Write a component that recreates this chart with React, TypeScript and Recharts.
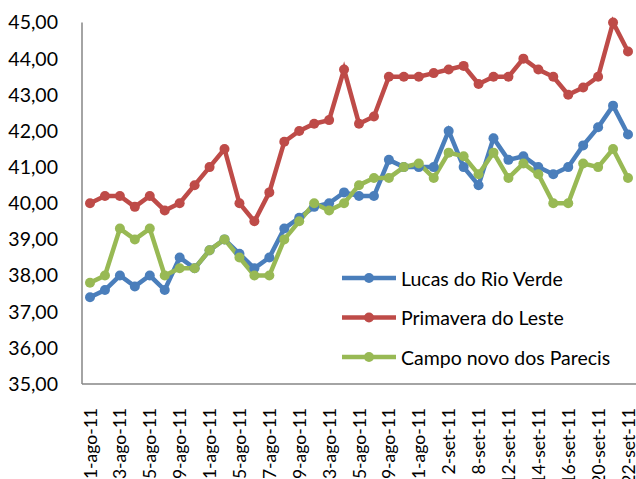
import React from 'react';
import { LineChart, Line, XAxis, YAxis } from 'recharts';

const dates = ['1-ago-11','2-ago-11','3-ago-11','4-ago-11','5-ago-11','8-ago-11','9-ago-11','10-ago-11','11-ago-11','12-ago-11','15-ago-11','16-ago-11','17-ago-11','18-ago-11','19-ago-11','22-ago-11','23-ago-11','24-ago-11','25-ago-11','26-ago-11','29-ago-11','30-ago-11','31-ago-11','1-set-11','2-set-11','6-set-11','8-set-11','9-set-11','12-set-11','13-set-11','14-set-11','15-set-11','16-set-11','19-set-11','20-set-11','21-set-11','22-set-11'];

const lucas = [37.4, 37.6, 38.0, 37.7, 38.0, 37.6, 38.5, 38.2, 38.7, 39.0,
  38.6, 38.2, 38.5, 39.3, 39.6, 39.9, 40.0, 40.3, 40.2, 40.2,
  41.2, 41.0, 41.0, 41.0, 42.0, 41.0, 40.5, 41.8, 41.2, 41.3,
  41.0, 40.8, 41.0, 41.6, 42.1, 42.7, 41.9];

const primavera = [40.0, 40.2, 40.2, 39.9, 40.2, 39.8, 40.0, 40.5, 41.0, 41.5,
  40.0, 39.5, 40.3, 41.7, 42.0, 42.2, 42.3, 43.7, 42.2, 42.4,
  43.5, 43.5, 43.5, 43.6, 43.7, 43.8, 43.3, 43.5, 43.5, 44.0,
  43.7, 43.5, 43.0, 43.2, 43.5, 45.0, 44.2];

const campo = [37.8, 38.0, 39.3, 39.0, 39.3, 38.0, 38.2, 38.2, 38.7, 39.0,
  38.5, 38.0, 38.0, 39.0, 39.5, 40.0, 39.8, 40.0, 40.5, 40.7,
  40.7, 41.0, 41.1, 40.7, 41.4, 41.3, 40.8, 41.4, 40.7, 41.1,
  40.8, 40.0, 40.0, 41.1, 41.0, 41.5, 40.7];

const yTicks = [35, 36, 37, 38, 39, 40, 41, 42, 43, 44, 45];

const seriesKeys = ['lucas', 'primavera', 'campo'];
const seriesNames = ['Lucas do Rio Verde', 'Primavera do Leste', 'Campo novo dos Parecis'];
const colors = ['#4A7EBB', '#BE4B48', '#98B954'];

const data = dates.map((d, i) => ({ date: d, lucas: lucas[i], primavera: primavera[i], campo: campo[i] }));

const FONT = 'Lato, "Open Sans", sans-serif';

const XTick = (props: any) => {
  const { x, y, payload } = props;
  return (
    <text x={x} y={y} transform={`rotate(-90, ${x}, ${y})`} textAnchor="end" dominantBaseline="central"
      fill="#000" fontSize={17.5} fontFamily={FONT}>
      {payload.value}
    </text>
  );
};

const LegendBox = () => (
  <svg width={300} height={130} style={{ position: 'absolute', left: 330, top: 258 }}>
    {seriesNames.map((name, i) => {
      const cy = 20 + i * 39.5;
      return (
        <g key={i}>
          <line x1={12} x2={66} y1={cy} y2={cy} stroke={colors[i]} strokeWidth={4.5} />
          <circle cx={39} cy={cy} r={5} fill={colors[i]} />
          <text x={71} y={cy} dominantBaseline="central" fontSize={19.5} fontFamily={FONT} fill="#000">{name}</text>
        </g>
      );
    })}
  </svg>
);

export default function App() {
  return (
    <div style={{ position: 'absolute', left: 0, top: 0, width: 636, height: 479, background: '#fff' }}>
      <LineChart width={636} height={479} data={data} margin={{ top: 22.5, right: 0, bottom: 0, left: 0 }}>
        <XAxis dataKey="date" interval={1} height={95} padding={{ left: 8, right: 8 }}
          axisLine={{ stroke: '#868686', strokeWidth: 1.5 }} tickLine={false} tickSize={0} tickMargin={24}
          tick={<XTick />} />
        <YAxis domain={[35, 45]} ticks={yTicks} width={82} interval={0}
          axisLine={{ stroke: '#868686', strokeWidth: 1.5 }} tickLine={false} tickSize={0} tickMargin={24}
          tickFormatter={(v: number) => v.toFixed(2).replace('.', ',')}
          tick={{ fill: '#000', fontSize: 19.5, fontFamily: FONT }} />
        {seriesKeys.map((k, i) => (
          <Line key={k} dataKey={k} name={seriesNames[i]} stroke={colors[i]} strokeWidth={4.5}
            dot={{ r: 5, fill: colors[i], stroke: 'none' }} activeDot={false} isAnimationActive={false} type="linear" />
        ))}
      </LineChart>
      <LegendBox />
    </div>
  );
}
